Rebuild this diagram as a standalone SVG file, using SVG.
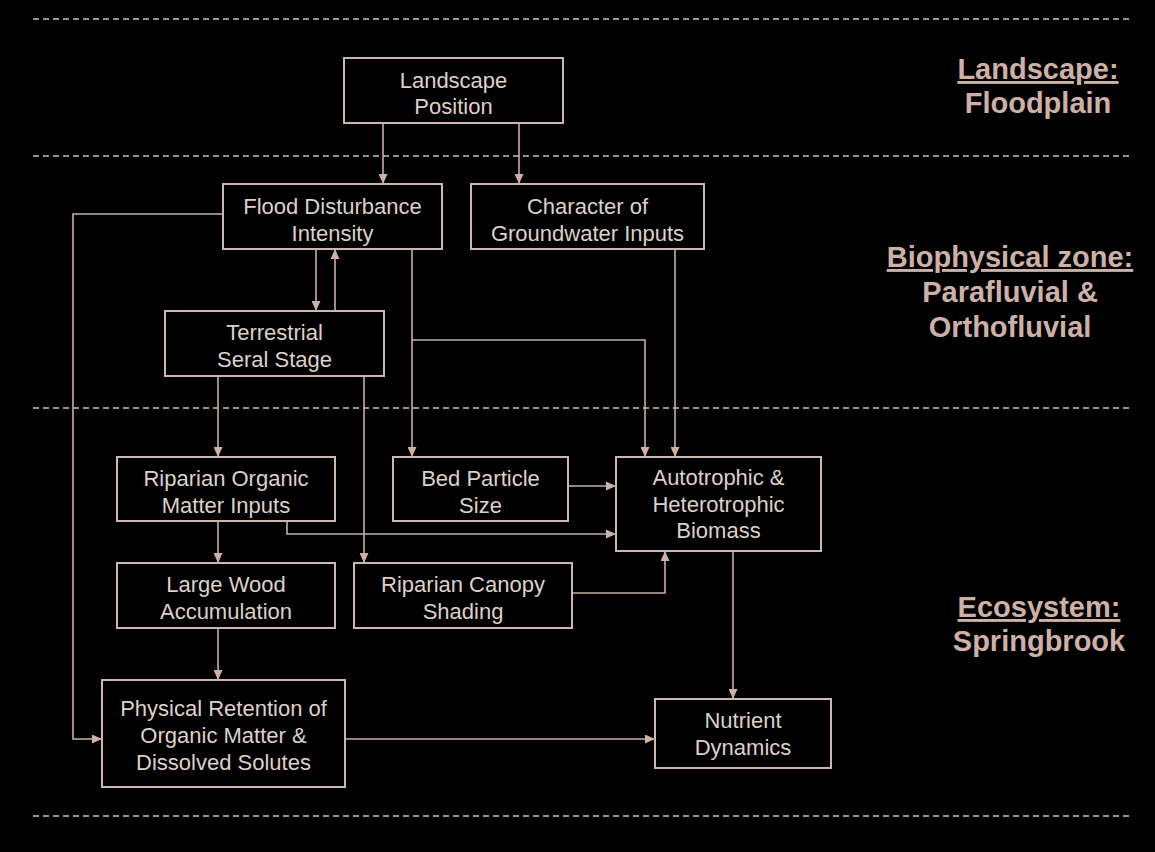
<svg xmlns="http://www.w3.org/2000/svg" width="1155" height="852" viewBox="0 0 1155 852">
<style>
.box{fill:#000;stroke:#cbb7b0;stroke-width:2}
.t{font-family:"Liberation Sans",Arial,sans-serif;font-size:22px;fill:#ddd0c9;text-anchor:middle}
.c{fill:none;stroke:#c4b0a8;stroke-width:1.6}
.d{stroke:#c8c2c0;stroke-width:1.4;stroke-dasharray:6 4}
.z{font-family:"Liberation Sans",Arial,sans-serif;font-size:29px;font-weight:bold;fill:#cdb1a6;text-anchor:middle}
</style>
<defs>
<marker id="ah" markerWidth="10" markerHeight="9" refX="10" refY="4.5" orient="auto" markerUnits="userSpaceOnUse">
<path d="M0,0 L10,4.5 L0,9 Z" fill="#cdb1a6"/>
</marker>
</defs>
<rect width="1155" height="852" fill="#000"/>
<g id="zones">
<line class="d" x1="33" y1="19" x2="1132" y2="19"/>
<line class="d" x1="33" y1="156" x2="1132" y2="156"/>
<line class="d" x1="33" y1="408" x2="1132" y2="408"/>
<line class="d" x1="33" y1="816" x2="1132" y2="816"/>
<text class="z" x="1038" y="79" text-decoration="underline">Landscape:</text>
<text class="z" x="1038" y="113">Floodplain</text>
<text class="z" x="1010" y="267" text-decoration="underline">Biophysical zone:</text>
<text class="z" x="1010" y="302">Parafluvial &amp;</text>
<text class="z" x="1010" y="337">Orthofluvial</text>
<text class="z" x="1039" y="617" text-decoration="underline">Ecosystem:</text>
<text class="z" x="1039" y="651">Springbrook</text>
</g>
<g id="connectors" marker-end="url(#ah)">
<path class="c" d="M383 123 V184" marker-end="url(#ah)"/>
<path class="c" d="M519 123 V184" marker-end="url(#ah)"/>
<path class="c" d="M316 249 V311" marker-end="url(#ah)"/>
<path class="c" d="M335 311 V249" marker-end="url(#ah)"/>
<path class="c" d="M412 249 V457" marker-end="url(#ah)"/>
<path class="c" d="M412 340 H645 V457" marker-end="url(#ah)"/>
<path class="c" d="M675 249 V457" marker-end="url(#ah)"/>
<path class="c" d="M223 214 H73 V739 H102" marker-end="url(#ah)"/>
<path class="c" d="M218 376 V457" marker-end="url(#ah)"/>
<path class="c" d="M364 376 V563" marker-end="url(#ah)"/>
<path class="c" d="M218 521 V563" marker-end="url(#ah)"/>
<path class="c" d="M287 521 V534 H616" marker-end="url(#ah)"/>
<path class="c" d="M568 486 H616" marker-end="url(#ah)"/>
<path class="c" d="M572 593 H665 V551" marker-end="url(#ah)"/>
<path class="c" d="M218 628 V680" marker-end="url(#ah)"/>
<path class="c" d="M733 551 V699" marker-end="url(#ah)"/>
<path class="c" d="M345 739 H655" marker-end="url(#ah)"/>
</g>
<g id="landscape-position">
<rect class="box" x="344" y="58" width="219" height="65"/>
<text class="t" x="453.5" y="88">Landscape</text>
<text class="t" x="453.5" y="114">Position</text>
</g>
<g id="flood-disturbance">
<rect class="box" x="223" y="184" width="219" height="65"/>
<text class="t" x="332.5" y="214">Flood Disturbance</text>
<text class="t" x="332.5" y="241">Intensity</text>
</g>
<g id="groundwater">
<rect class="box" x="471" y="184" width="233" height="65"/>
<text class="t" x="587.5" y="214">Character of</text>
<text class="t" x="587.5" y="241">Groundwater Inputs</text>
</g>
<g id="terrestrial-seral">
<rect class="box" x="165" y="311" width="219" height="65"/>
<text class="t" x="274.5" y="340">Terrestrial</text>
<text class="t" x="274.5" y="367">Seral Stage</text>
</g>
<g id="riparian-organic">
<rect class="box" x="117" y="457" width="218" height="64"/>
<text class="t" x="226" y="486">Riparian Organic</text>
<text class="t" x="226" y="513">Matter Inputs</text>
</g>
<g id="bed-particle">
<rect class="box" x="393" y="457" width="175" height="64"/>
<text class="t" x="480.5" y="486">Bed Particle</text>
<text class="t" x="480.5" y="513">Size</text>
</g>
<g id="biomass">
<rect class="box" x="616" y="457" width="205" height="94"/>
<text class="t" x="718.5" y="485">Autotrophic &amp;</text>
<text class="t" x="718.5" y="512">Heterotrophic</text>
<text class="t" x="718.5" y="538">Biomass</text>
</g>
<g id="large-wood">
<rect class="box" x="117" y="563" width="218" height="65"/>
<text class="t" x="226" y="592">Large Wood</text>
<text class="t" x="226" y="619">Accumulation</text>
</g>
<g id="canopy-shading">
<rect class="box" x="354" y="563" width="218" height="65"/>
<text class="t" x="463" y="592">Riparian Canopy</text>
<text class="t" x="463" y="619">Shading</text>
</g>
<g id="physical-retention">
<rect class="box" x="102" y="680" width="243" height="107"/>
<text class="t" x="223.5" y="716">Physical Retention of</text>
<text class="t" x="223.5" y="743">Organic Matter &amp;</text>
<text class="t" x="223.5" y="770">Dissolved Solutes</text>
</g>
<g id="nutrient-dynamics">
<rect class="box" x="655" y="699" width="176" height="69"/>
<text class="t" x="743" y="728">Nutrient</text>
<text class="t" x="743" y="755">Dynamics</text>
</g>
</svg>
